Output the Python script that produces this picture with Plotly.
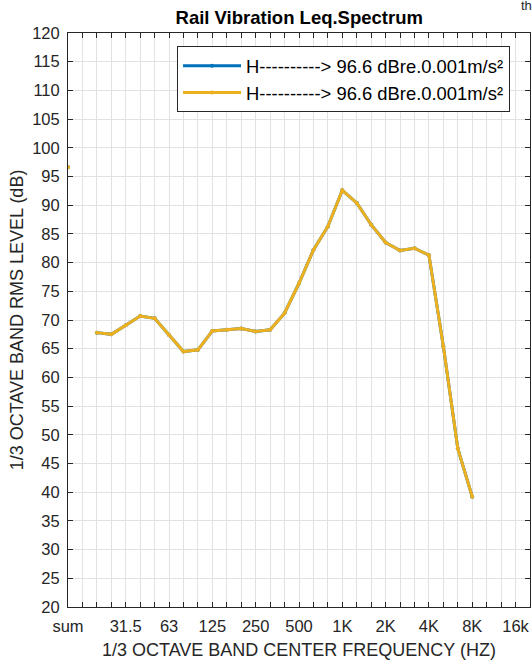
import plotly.graph_objects as go

# band positions: 0 = sum, 1 = 16 Hz, ..., 31 = 16 kHz
band_index = list(range(0, 29))
levels = [96.6, None, 67.8, 67.5, 69.1, 70.7, 70.3, 67.4, 64.5, 64.8,
          68.1, 68.3, 68.5, 68.0, 68.3, 71.2, 76.4, 82.2, 86.3, 92.6,
          90.4, 86.6, 83.5, 82.1, 82.5, 81.3, 65.4, 47.6, 39.2]

tick_positions = [0, 4, 7, 10, 13, 16, 19, 22, 25, 28, 31]
tick_labels = ["sum", "31.5", "63", "125", "250", "500", "1K", "2K", "4K", "8K", "16k"]

legend_text = "H----------> 96.6 dBre.0.001m/s\u00b2"
series_colors = ["#0072BD", "#EDB120"]

FONT = "Liberation Sans, Arial, sans-serif"
DARK = "#262626"
GRID = "#e2e2e2"

fig = go.Figure()
for c in series_colors:
    fig.add_trace(go.Scatter(
        x=band_index, y=levels, mode="lines+markers",
        line=dict(color=c, width=3),
        marker=dict(color=c, size=4),
        connectgaps=False,
        name=legend_text,
    ))

fig.update_layout(
    width=532, height=664,
    margin=dict(l=68, r=2, t=33, b=57),
    paper_bgcolor="white", plot_bgcolor="white",
    font=dict(family=FONT, color=DARK, size=16),
    title=dict(text="<b>Rail Vibration Leq.Spectrum</b>", x=0.5625, xanchor="center",
               y=0.974, yanchor="middle", font=dict(size=18.5, color="#000000")),
    showlegend=True,
    legend=dict(x=0.236, y=0.977, xanchor="left", yanchor="top",
                bgcolor="white", bordercolor=DARK, borderwidth=1,
                font=dict(size=18.4, color="#000000"), tracegroupgap=0,
                itemwidth=58),
    annotations=[dict(text="th", xref="paper", yref="paper", x=0.976, y=1.064,
                      xanchor="left", yanchor="top", showarrow=False,
                      font=dict(size=13, color=DARK))],
)

fig.update_xaxes(
    range=[0, 32], tickmode="array", tickvals=tick_positions, ticktext=tick_labels,
    ticks="inside", ticklen=5, tickcolor=DARK, showline=True, linecolor=DARK, linewidth=1,
    mirror="allticks", showgrid=True, gridcolor=GRID, gridwidth=1, zeroline=False,
    minor=dict(tick0=0, dtick=1, ticks="inside", ticklen=5, tickcolor=DARK,
               showgrid=True, gridcolor=GRID, gridwidth=1),
    tickfont=dict(size=16.5, color=DARK), ticklabelstandoff=4,
    title=dict(text="1/3 OCTAVE BAND CENTER FREQUENCY (HZ)", font=dict(size=18, color=DARK),
               standoff=9),
)
fig.update_yaxes(
    range=[20, 120], tickmode="linear", tick0=20, dtick=5,
    ticks="inside", ticklen=5, tickcolor=DARK, showline=True, linecolor=DARK, linewidth=1,
    mirror="allticks", showgrid=True, gridcolor=GRID, gridwidth=1, zeroline=False,
    tickfont=dict(size=16.5, color=DARK), ticklabelstandoff=4,
    title=dict(text="1/3 OCTAVE BAND RMS LEVEL (dB)", font=dict(size=18, color=DARK),
               standoff=3),
)

fig.write_html("out.html", config={"displayModeBar": False},
               post_script="document.body.style.margin='0';document.body.style.overflow='hidden';")
